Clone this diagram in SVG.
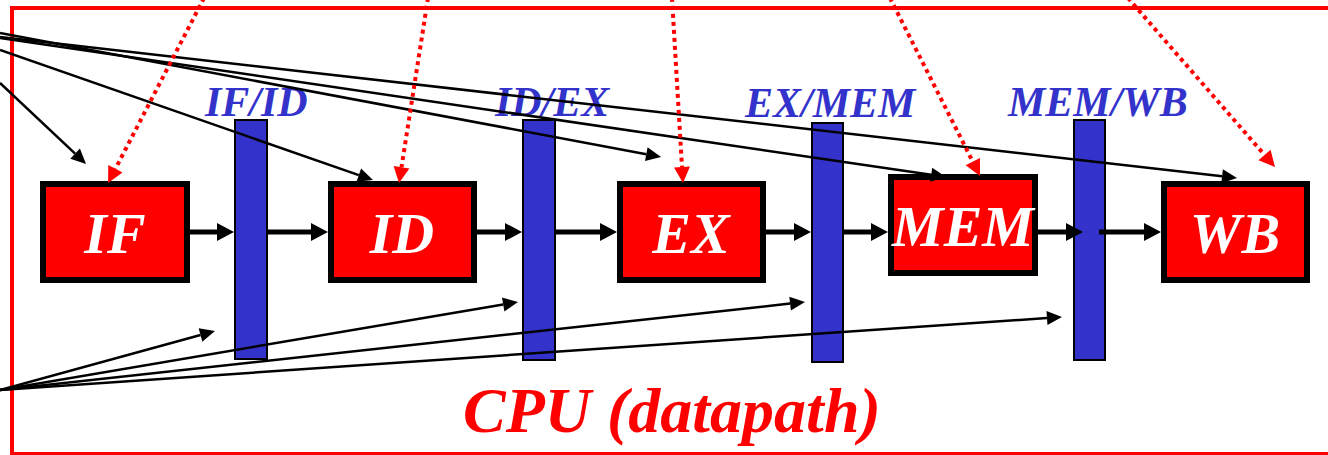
<svg xmlns="http://www.w3.org/2000/svg" width="1328" height="455" viewBox="0 0 1328 455">
<style>
.stage{fill:#FF0000;stroke:#000;stroke-width:6}
.stxt{font-family:"Liberation Serif","Times New Roman",serif;font-weight:bold;font-style:italic;font-size:58px;fill:#fff;text-anchor:middle}
.reg{fill:#3333CC;stroke:#000;stroke-width:2}
.rtxt{font-family:"Liberation Serif","Times New Roman",serif;font-weight:bold;font-style:italic;font-size:42px;fill:#3333CC}
.thick{stroke:#000;stroke-width:5;fill:none}
.thin{stroke:#000;stroke-width:2.5;fill:none}
.dot{stroke:#FF0000;stroke-width:4;stroke-dasharray:4 4;fill:none}
</style>
<defs>
<marker id="hThick" markerUnits="userSpaceOnUse" orient="auto" refX="0" refY="0" markerWidth="20" markerHeight="20" overflow="visible"><path d="M0,-9 L17,0 L0,9 z" fill="#000"/></marker>
<marker id="hThin" markerUnits="userSpaceOnUse" orient="auto" refX="0" refY="0" markerWidth="20" markerHeight="20" overflow="visible"><path d="M0,-7 L15,0 L0,7 z" fill="#000"/></marker>
<marker id="hRed" markerUnits="userSpaceOnUse" orient="auto" refX="0" refY="0" markerWidth="20" markerHeight="20" overflow="visible"><path d="M0,-8 L16,0 L0,8 z" fill="#FF0000"/></marker>
</defs>
<rect id="cpu" x="12" y="8" width="1340" height="446" fill="none" stroke="#FF0000" stroke-width="4"/>
<text id="cpu-label" x="463" y="432" font-family="'Liberation Serif','Times New Roman',serif" font-weight="bold" font-style="italic" font-size="64" fill="#FF0000">CPU (datapath)</text>

<g id="IF"><rect class="stage" x="43" y="184" width="144" height="96"/><text class="stxt" x="115" y="253">IF</text></g>
<g id="ID"><rect class="stage" x="331" y="184" width="143" height="96"/><text class="stxt" x="402" y="253">ID</text></g>
<g id="EX"><rect class="stage" x="620" y="184" width="143" height="96"/><text class="stxt" x="691" y="253">EX</text></g>
<g id="MEM"><rect class="stage" x="891" y="177" width="144" height="96"/><text class="stxt" x="963" y="246">MEM</text></g>
<g id="WB"><rect class="stage" x="1164" y="184" width="143" height="96"/><text class="stxt" x="1235" y="253">WB</text></g>

<g id="IF-ID"><rect class="reg" x="235" y="120" width="32" height="239"/><text class="rtxt" x="205" y="116">IF/ID</text></g>
<g id="ID-EX"><rect class="reg" x="523" y="120" width="32" height="240"/><text class="rtxt" x="495" y="116">ID/EX</text></g>
<g id="EX-MEM"><rect class="reg" x="812" y="123" width="31" height="239"/><text class="rtxt" x="745" y="117">EX/MEM</text></g>
<g id="MEM-WB"><rect class="reg" x="1074" y="120" width="31" height="240"/><text class="rtxt" x="1008" y="116">MEM/WB</text></g>

<g id="connectors">
<path class="thick" marker-end="url(#hThick)" d="M187,232 L217,232"/>
<path class="thick" marker-end="url(#hThick)" d="M268,232 L311,232"/>
<path class="thick" marker-end="url(#hThick)" d="M474,232 L505,232"/>
<path class="thick" marker-end="url(#hThick)" d="M556,232 L600,232"/>
<path class="thick" marker-end="url(#hThick)" d="M763,232 L794,232"/>
<path class="thick" marker-end="url(#hThick)" d="M844,232 L871,232"/>
<path class="thick" marker-end="url(#hThick)" d="M1035,232 L1066,232"/>
<path class="thick" marker-end="url(#hThick)" d="M1099,232 L1144,232"/>

<path class="thin" marker-end="url(#hThin)" d="M0,83 L75.1,153.7"/>
<path class="thin" marker-end="url(#hThin)" d="M0,50 L358.8,175.1"/>
<path class="thin" marker-end="url(#hThin)" d="M0,33 L646.3,154.2"/>
<path class="thin" marker-end="url(#hThin)" d="M0,38 L931.2,174.8"/>
<path class="thin" marker-end="url(#hThin)" d="M0,37 L1222.1,176.3"/>

<path class="thin" marker-end="url(#hThin)" d="M0,390 L200.5,335"/>
<path class="thin" marker-end="url(#hThin)" d="M0,390 L503.2,304.5"/>
<path class="thin" marker-end="url(#hThin)" d="M0,390 L790.1,303.6"/>
<path class="thin" marker-end="url(#hThin)" d="M0,390 L1047,318"/>

<path class="dot" marker-end="url(#hRed)" d="M204,-2 L115.4,168.8"/>
<path class="dot" marker-end="url(#hRed)" d="M428,-2 L401.5,167.2"/>
<path class="dot" marker-end="url(#hRed)" d="M672,-2 L682,167"/>
<path class="dot" marker-end="url(#hRed)" d="M890,-2 L972.8,161.7"/>
<path class="dot" marker-end="url(#hRed)" d="M1128,-2 L1264.5,154.9"/>
</g>
</svg>
